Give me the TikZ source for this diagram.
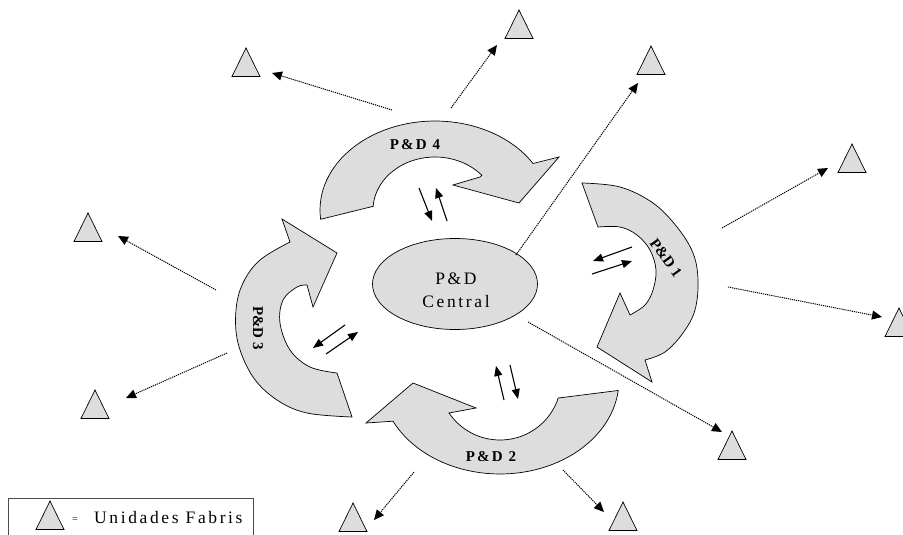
\documentclass[tikz,border=0pt]{standalone}
\usepackage{fontspec}
\setmainfont{Liberation Serif}
\newfontfamily\lsfont[LetterSpace=15]{Liberation Serif}
\newfontfamily\lsbold[LetterSpace=15]{Liberation Serif}
\usetikzlibrary{arrows.meta,shapes.geometric}
\definecolor{bandgray}{RGB}{221,221,221}
\begin{document}
\begin{tikzpicture}[x=1pt,y=-1pt,
  band/.style={draw=black, line width=0.7pt, fill=bandgray, line join=miter},
  tri/.style={draw=black, line width=0.7pt, fill=bandgray, line join=miter},
  dotarrow/.style={line width=1pt, dash pattern=on 1.2pt off 0.9pt, -{Triangle[length=10pt,width=9pt]}},
  pairarrow/.style={line width=1.1pt, -{Triangle[length=10pt,width=8pt]}},
  lbl/.style={inner sep=0, font=\fontsize{15}{17}\selectfont\lsbold\bfseries},
  rlbl/.style={inner sep=0, font=\fontsize{15}{17}\selectfont\bfseries},
  unitri/.pic={\draw[tri] (0,0) -- (14,28.5) -- (-14,28.5) -- cycle;}
]
\clip (0,0) rectangle (903,535);
\fill[white] (0,0) rectangle (903,535);

% ---------- P&D 4 (top) ----------
\draw[band] plot[domain=174:328.5, samples=50, variable=\t] ({435+115*cos(\t)},{210+89*sin(\t)})
  -- (559,157) -- (519,203) -- (453,185) -- (480,177)
  -- plot[domain=319:184, samples=40, variable=\t] ({435+62*cos(\t)},{210+53*sin(\t)}) -- cycle;
\node[lbl] (l4) at (415,145) {P\&D 4};

% ---------- P&D 1 (right) ----------
\draw[band] plot[smooth, tension=0.6] coordinates {(582,183) (620,187) (653,203) (677,227) (693,253) (698,280) (695,310) (683,333) (665,352) (645,360)}
  -- (652,382) -- (597,347) -- (620,293) -- (630,315)
  -- plot[smooth, tension=0.6] coordinates {(630,315) (645,305) (653,290) (656,270) (650,250) (637,235) (620,227) (598,227)} -- cycle;
\node[rlbl, rotate=-54] (l1) at (666,258) {P\&D 1};

% ---------- P&D 2 (bottom) ----------
\draw[band] plot[domain=6.4:154, samples=50, variable=\t] ({500+119*cos(\t)},{380+94*sin(\t)})
  -- (366,423) -- (413,383) -- (476,408) -- (449,413)
  -- plot[domain=146.7:17.5, samples=40, variable=\t] ({500+61*cos(\t)},{380+60*sin(\t)}) -- cycle;
\node[lbl] (l2) at (491,457) {P\&D 2};

% ---------- P&D 3 (left) ----------
\draw[band] plot[smooth, tension=0.6] coordinates {(352,417) (307,413) (277,400) (253,377) (238,343) (236,310) (243,283) (260,260) (290,242)}
  -- (282,219) -- (337,253) -- (313,307) -- (307,285)
  -- plot[smooth, tension=0.6] coordinates {(307,285) (297,287) (283,300) (280,323) (290,350) (310,367) (337,373)} -- cycle;
\node[rlbl, rotate=-90] (l3) at (258,328) {P\&D 3};

% ---------- central ellipse ----------
\node[ellipse, draw=black, line width=0.7pt, fill=bandgray, minimum width=165pt, minimum height=91pt, inner sep=0] (central) at (455,284) {};
\node[inner sep=0, anchor=base, font=\fontsize{17.5}{20}\selectfont\lsfont] (ct1) at (456,284) {P\&D};
\node[inner sep=0, anchor=base, font=\fontsize{17.5}{20}\selectfont\lsfont] (ct2) at (456,307) {Central};

% ---------- paired arrows ----------
\coordinate (a4a) at (419,188); \coordinate (a4b) at (432,221);
\coordinate (a4c) at (447,221); \coordinate (a4d) at (436,188);
\draw[pairarrow] (a4a) -- (a4b);
\draw[pairarrow] (a4c) -- (a4d);
\coordinate (a1a) at (632,247); \coordinate (a1b) at (593,261);
\coordinate (a1c) at (592,274); \coordinate (a1d) at (632,261);
\draw[pairarrow] (a1a) -- (a1b);
\draw[pairarrow] (a1c) -- (a1d);
\coordinate (a3a) at (345,325); \coordinate (a3b) at (313,348);
\coordinate (a3c) at (326,354); \coordinate (a3d) at (358,332);
\draw[pairarrow] (a3a) -- (a3b);
\draw[pairarrow] (a3c) -- (a3d);
\coordinate (a2a) at (504,400); \coordinate (a2b) at (496,366);
\coordinate (a2c) at (510,365); \coordinate (a2d) at (518,399);
\draw[pairarrow] (a2a) -- (a2b);
\draw[pairarrow] (a2c) -- (a2d);

% ---------- unit triangles ----------
\pic (t1) at (246,48) {unitri};
\pic (t2) at (519,10) {unitri};
\pic (t3) at (651,46) {unitri};
\pic (t4) at (852,144) {unitri};
\pic (t5) at (899,308) {unitri};
\pic (t6) at (88,213) {unitri};
\pic (t7) at (95,390) {unitri};
\pic (t8) at (353,503) {unitri};
\pic (t9) at (623,502) {unitri};
\pic (t10) at (732,431) {unitri};

% ---------- dotted arrows ----------
\coordinate (s1) at (392,110);  \coordinate (e1) at (272,73);
\coordinate (s2) at (451,108);  \coordinate (e2) at (497,45);
\coordinate (s3) at (516,255);  \coordinate (e3) at (638,83);
\coordinate (s4) at (722,228);  \coordinate (e4) at (828,168);
\coordinate (s5) at (728,287);  \coordinate (e5) at (882,317);
\coordinate (s6) at (216,290);  \coordinate (e6) at (118,236);
\coordinate (s7) at (227,353);  \coordinate (e7) at (126,398);
\coordinate (s8) at (414,472);  \coordinate (e8) at (374,520);
\coordinate (s9) at (563,470);  \coordinate (e9) at (604,512);
\coordinate (s10) at (528,322); \coordinate (e10) at (722,432);
\foreach \i in {1,...,10} { \draw[dotarrow] (s\i) -- (e\i); }

% ---------- legend ----------
\draw[black!70, line width=0.8pt] (8,540) -- (8,498) -- (253,498) -- (253,540);
\pic (tl) at (50,501) {unitri};
\node[inner sep=0, anchor=base west, font=\fontsize{10}{12}\selectfont] (eq) at (72,522) {=};
\node[inner sep=0, anchor=base west, font=\fontsize{17.5}{20}\selectfont\lsfont] (leg) at (94,523) {Unidades Fabris};
\end{tikzpicture}
\end{document}
